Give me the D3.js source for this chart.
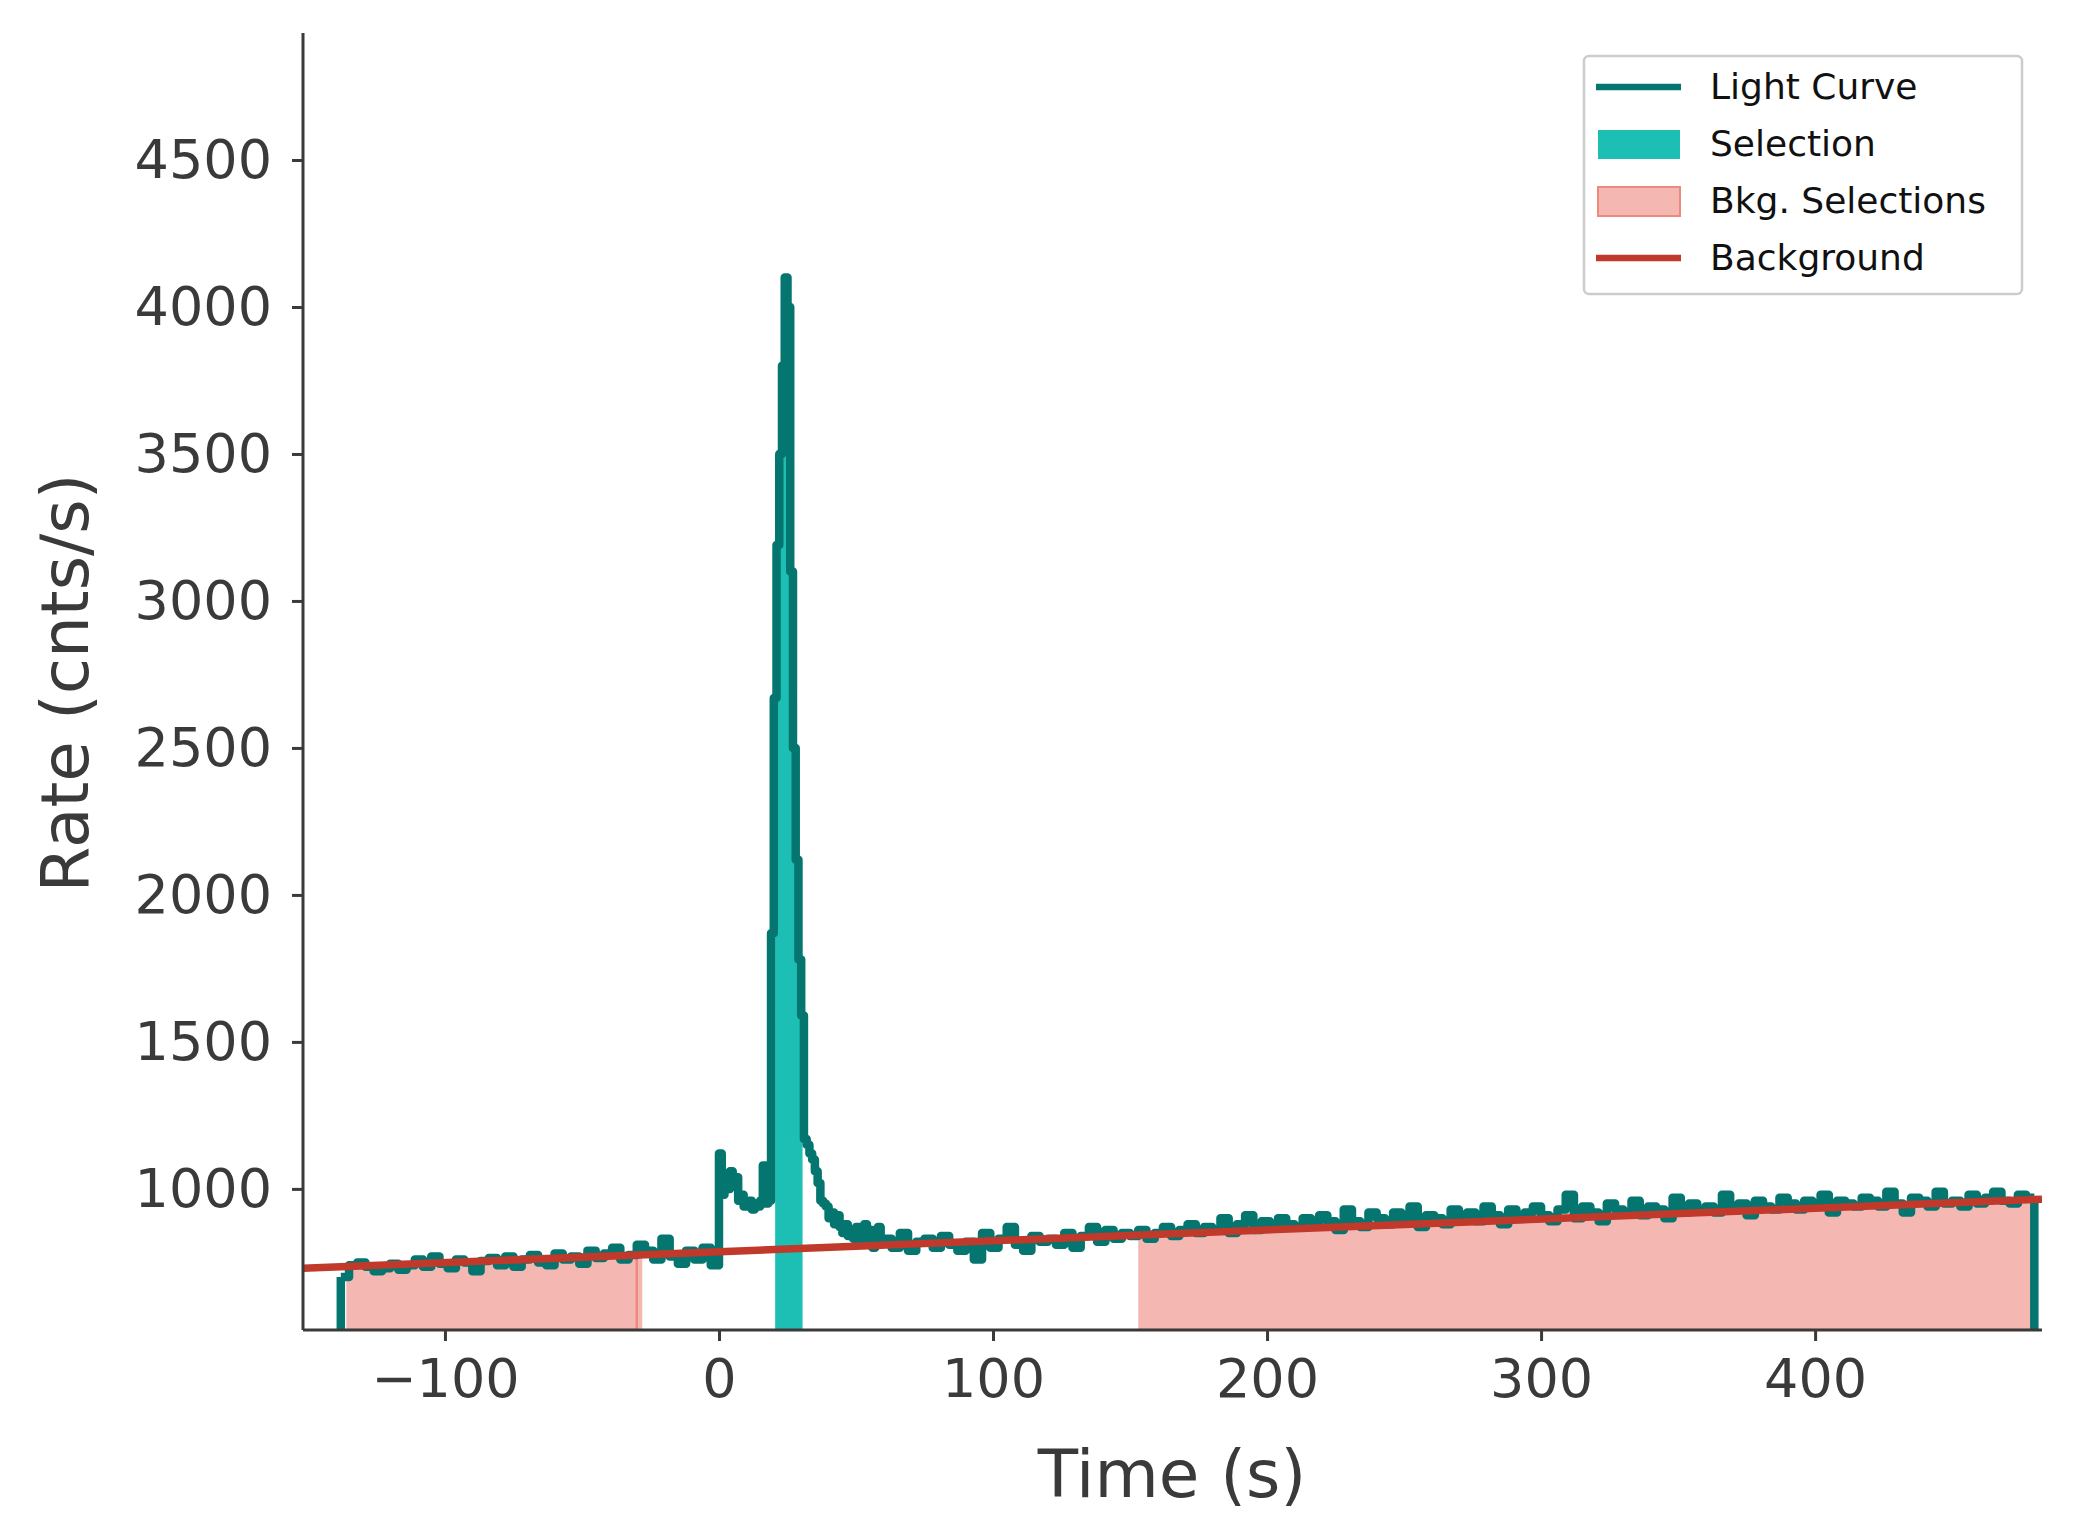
<!DOCTYPE html>
<html><head><meta charset="utf-8">
<script src="https://cdn.jsdelivr.net/npm/d3@7"></script>
<style>body{margin:0;background:#fff}</style></head>
<body><svg id="c" width="2074" height="1540"></svg>
<script>
const preStart=-138, preStep=3;
const preRates=[700,740,750,735,720,730,745,725,740,760,735,770,745,730,760,750,720,755,765,740,770,735,760,775,750,740,780,760,770,745,790,765,780,800,760,775,810,790,760,830,770,745,790,760,800,740];
const burstStart=0, burstStep=1;
const burstRates=[1120,980,1050,1000,1060,1020,1040,960,980,940,950,960,930,950,940,960,1080,950,960,1870,2670,3190,3500,3800,4100,4000,3100,2500,2120,1780,1590,1170,1150,1120,1100,1060,1020,960,950,940,900,920,880,910,870,850,880,840,860,830,870,820,850,880,830,860,800,840,870,820];
const postStart=60, postStep=3;
const postRates=[830,800,850,790,820,830,800,840,810,790,820,760,850,800,830,870,810,790,840,820,830,810,850,800,840,870,820,860,830,850,840,860,830,850,870,840,860,880,850,870,860,900,850,880,910,860,890,870,900,880,870,900,880,910,890,860,930,890,870,920,900,880,920,890,940,870,910,900,880,930,900,920,890,940,910,880,930,900,920,940,910,890,930,980,900,940,920,890,950,930,920,960,910,940,930,900,970,920,950,930,940,920,980,930,950,910,960,940,930,970,950,930,960,940,980,920,960,950,940,970,960,940,990,950,920,970,960,940,990,950,960,940,980,950,970,990,960,950,980,970];
const endTime=480;
const selection=[20.5,30.5];
const bkgSelections=[[-136,-28],[153,480]];
const bkgLine=[[-151.8,730],[482.8,965]];
const xTicks=[-100,0,100,200,300,400];
const yTicks=[1000,1500,2000,2500,3000,3500,4000,4500];

const pts=[];
preRates.forEach((r,i)=>pts.push([preStart+i*preStep,r]));
burstRates.forEach((r,i)=>pts.push([burstStart+i*burstStep,r]));
postRates.forEach((r,i)=>pts.push([postStart+i*postStep,r]));
pts.push([endTime,postRates[postRates.length-1]]);

const svg=d3.select("#c");
const L=303,R=2042,T=33,B=1330;
const x=d3.scaleLinear().domain([-151.8,482.8]).range([L,R]);
const y=d3.scaleLinear().domain([520,4932]).range([B,T]);
const defs=svg.append("defs");
defs.append("clipPath").attr("id","plot").append("rect").attr("x",L).attr("y",T).attr("width",R-L).attr("height",B-T);
const area=d3.area().curve(d3.curveStepAfter).x(d=>x(d[0])).y0(B).y1(d=>y(d[1]));
function regionFill(rng,id,fill,stroke){
  defs.append("clipPath").attr("id",id).append("rect").attr("x",x(rng[0])).attr("y",T).attr("width",x(rng[1])-x(rng[0])).attr("height",B-T);
  const g=svg.append("g").attr("clip-path",`url(#${id})`);
  g.append("path").attr("d",area(pts)).attr("fill",fill);
  if(stroke){
    const sub=pts.filter(p=>p[0]>=rng[0]-3&&p[0]<=rng[1]);
    g.append("path").attr("d",area(sub)).attr("fill","none").attr("stroke",stroke).attr("stroke-width",2.5);
  }
}
bkgSelections.forEach((r,i)=>regionFill(r,"bk"+i,"#f5b7b1","#ec8a80"));
regionFill(selection,"sel","#1dbfb5",null);
const gp=svg.append("g").attr("clip-path","url(#plot)");
const SW=8.5;
const line=d3.line().curve(d3.curveStepAfter).x(d=>x(d[0])).y(d=>y(d[1]));
const seg=d3.line().x(d=>x(d[0])).y(d=>y(d[1]));
gp.append("path").attr("d",seg([[preStart,400],[preStart,pts[0][1]]])).attr("stroke","#04756f").attr("stroke-width",SW).attr("fill","none");
gp.append("path").attr("d",line(pts)).attr("stroke","#04756f").attr("stroke-width",SW).attr("fill","none").attr("stroke-linejoin","round");
gp.append("path").attr("d",seg([[endTime,pts[pts.length-1][1]],[endTime,400]])).attr("stroke","#04756f").attr("stroke-width",SW).attr("fill","none");
gp.append("path").attr("d",seg(bkgLine)).attr("stroke","#c0392b").attr("stroke-width",7.5).attr("fill","none");

const ax="#3a3a3a";
const xa=svg.append("g").attr("transform",`translate(0,${B})`).call(d3.axisBottom(x).tickValues(xTicks).tickSize(11).tickPadding(18).tickFormat(d=>d<0?"\u2212"+Math.abs(d):String(d)));
const ya=svg.append("g").attr("transform",`translate(${L},0)`).call(d3.axisLeft(y).tickValues(yTicks).tickSize(11).tickPadding(20).tickFormat(d=>String(d)));
[xa,ya].forEach(a=>{a.select(".domain").attr("stroke",ax).attr("stroke-width",3);a.selectAll(".tick line").attr("stroke",ax).attr("stroke-width",3);a.selectAll("text").attr("fill",ax).attr("font-family","DejaVu Sans").attr("font-size",54);});
xa.select(".domain").attr("d",`M${L},0H${R}`);
ya.select(".domain").attr("d",`M0,${B}V${T}`);
svg.append("text").attr("x",1172).attr("y",1497).attr("text-anchor","middle").attr("font-family","DejaVu Sans").attr("font-size",66).attr("fill",ax).text("Time (s)");
svg.append("text").attr("transform",`translate(88,${683}) rotate(-90)`).attr("text-anchor","middle").attr("font-family","DejaVu Sans").attr("font-size",66).attr("fill",ax).text("Rate (cnts/s)");

const lg=svg.append("g");
lg.append("rect").attr("x",1584).attr("y",56).attr("width",438).attr("height",238).attr("rx",5).attr("fill","#fff").attr("stroke","#ccc").attr("stroke-width",2.5);
const items=[["Light Curve","line","#04756f"],["Selection","box","#1dbfb5"],["Bkg. Selections","box","#f5b7b1"],["Background","line","#c0392b"]];
items.forEach((it,i)=>{
  const cy=87+i*57;
  if(it[1]=="line") lg.append("line").attr("x1",1596).attr("x2",1681).attr("y1",cy).attr("y2",cy).attr("stroke",it[2]).attr("stroke-width",6.5);
  else lg.append("rect").attr("x",1598).attr("y",cy-14).attr("width",82).attr("height",29).attr("fill",it[2]).attr("stroke",i==2?"#ec8a80":"none").attr("stroke-width",2);
  lg.append("text").attr("x",1710).attr("y",cy+12).attr("font-family","DejaVu Sans").attr("font-size",36).attr("fill","#111").text(it[0]);
});
</script></body></html>
